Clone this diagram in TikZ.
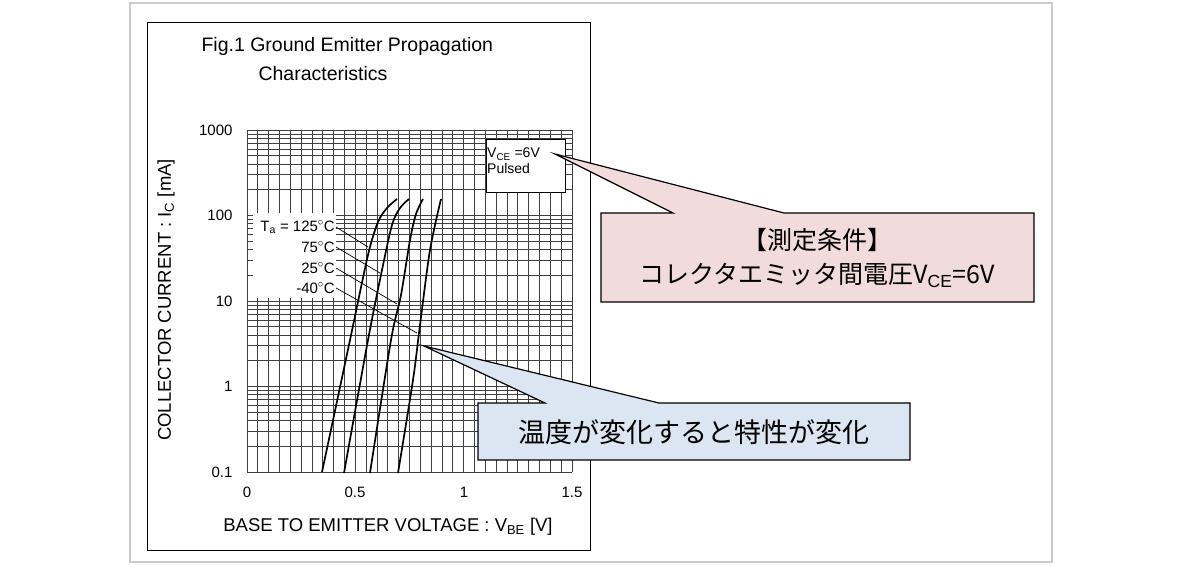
\documentclass[tikz,border=0pt]{standalone}
\usepackage{fontspec}
\setmainfont{Liberation Sans}
\newfontfamily\cjk{Noto Sans CJK JP}
\definecolor{pinkf}{HTML}{F2DCDB}
\definecolor{bluef}{HTML}{DCE6F2}
\begin{document}
\begin{tikzpicture}[x=1pt,y=-1pt,
  grid/.style={draw=black!75,line width=0.7pt},
  curve/.style={draw=black,line width=1.7pt},
  lead/.style={draw=black,line width=0.7pt},
  tick/.style={font=\fontsize{15}{17}\selectfont},
  callout/.style={draw=black,line width=1.2pt}]
\useasboundingbox (0,0) rectangle (1182,565);
\draw[black!20,line width=2.5pt] (130,3) rectangle (1052,562);
\node[draw=black,line width=1pt,minimum width=443pt,minimum height=528pt,anchor=north west] (frame) at (147,22) {};
% grid
\foreach \i in {0,...,30} { \draw[grid] ({247+\i*325/30},130) -- ({247+\i*325/30},472); }
\foreach \d in {0,...,3} { \foreach \k in {1,...,9} {
  \pgfmathsetmacro\yy{472-85.5*(\d+ln(\k)/ln(10))}
  \draw[grid] (247,\yy) -- (572,\yy); } }
\draw[grid] (247,130) -- (572,130);
\fill[white] (253,213) rectangle (336,298);
% curves
\draw[curve] plot[smooth] coordinates {(322,472) (350,340) (368,255) (378,222) (387,208) (397,199)};
\draw[curve] plot[smooth] coordinates {(344,473) (368,340) (382,270) (392,225) (400,208) (409,199)};
\draw[curve] plot[smooth] coordinates {(370,473) (391,340) (401,295) (410,240) (416,214) (423,199)};
\draw[curve] plot[smooth] coordinates {(398,473) (413,380) (420,325) (430,250) (441,199)};
% labels
\node[tick,anchor=east,inner sep=1pt] (l125) at (336,227) {T$_{\mathrm{a}}$ = 125$^\circ$C};
\node[tick,anchor=east,inner sep=1pt] (l75) at (336,247) {75$^\circ$C};
\node[tick,anchor=east,inner sep=1pt] (l25) at (336,268) {25$^\circ$C};
\node[tick,anchor=east,inner sep=1pt] (l40) at (336,288) {-40$^\circ$C};
\coordinate (p125) at (368,247); \coordinate (p75) at (380,273);
\coordinate (p25) at (397,304); \coordinate (p40) at (417,333);
\draw[lead] (l125.east) -- (p125); \draw[lead] (l75.east) -- (p75);
\draw[lead] (l25.east) -- (p25); \draw[lead] (l40.east) -- (p40);
% VCE box
\node[draw=black,fill=white,line width=0.8pt,minimum width=79pt,minimum height=53pt,anchor=north west] (vbox) at (486,139) {};
\node[anchor=north west,inner sep=0pt,align=left,font=\fontsize{14}{16}\selectfont] (vtxt) at (487,148) {V$_{\mathrm{CE}}$ =6V\\Pulsed};
% ticks
\node[tick,anchor=east] (y1000) at (236,130) {1000};
\node[tick,anchor=east] (y100) at (236,215) {100};
\node[tick,anchor=east] (y10) at (236,301) {10};
\node[tick,anchor=east] (y1) at (236,386) {1};
\node[tick,anchor=east] (y01) at (236,472) {0.1};
\node[tick] (x0) at (247,492) {0};
\node[tick] (x05) at (355,492) {0.5};
\node[tick] (x1) at (464,492) {1};
\node[tick] (x15) at (572,492) {1.5};
\node[font=\fontsize{18.5}{20}\selectfont,rotate=90] (ylab) at (166,300) {COLLECTOR CURRENT : I$_{\mathrm{C}}$ [mA]};
\node[font=\fontsize{18.5}{20}\selectfont] (xlab) at (388,527) {BASE TO EMITTER VOLTAGE : V$_{\mathrm{BE}}$ [V]};
\node[font=\fontsize{19.5}{22}\selectfont,anchor=west] (t1) at (198,46) {Fig.1 Ground Emitter Propagation};
\node[font=\fontsize{19.5}{22}\selectfont,anchor=west] (t2) at (255,74) {Characteristics};
% callouts
\coordinate (tip1) at (555,154);
\draw[callout,fill=pinkf] (601,213) -- (673,213) -- (tip1) -- (784,213) -- (1034,213) -- (1034,302) -- (601,302) -- cycle;
\node[align=center,font=\cjk\fontsize{25}{34}\selectfont] (c1) at (817,258) {【測定条件】\\コレクタエミッタ間電圧V$_{\mathrm{CE}}$=6V};
\coordinate (tip2) at (424,346);
\draw[callout,fill=bluef] (478,403) -- (545,403) -- (tip2) -- (659,403) -- (910,403) -- (910,460) -- (478,460) -- cycle;
\node[font=\cjk\fontsize{27}{30}\selectfont] (c2) at (694,432) {温度が変化すると特性が変化};
\end{tikzpicture}
\end{document}
